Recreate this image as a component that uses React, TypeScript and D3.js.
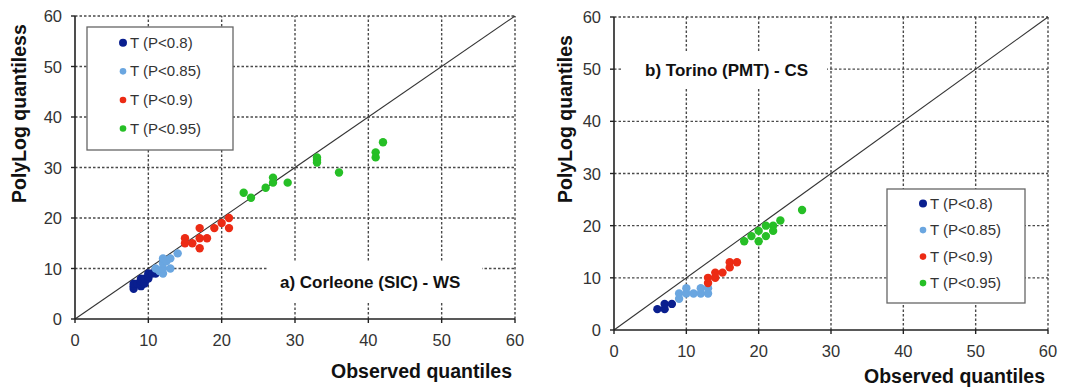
import * as d3 from "d3";

type Pt = [number, number];

// series labels and colours
const seriesNames = ["T (P<0.8)", "T (P<0.85)", "T (P<0.9)", "T (P<0.95)"];
const seriesColors = ["#0a1f8f", "#6aa6e0", "#ec2b14", "#26bf26"];
const ticks = [0, 10, 20, 30, 40, 50, 60];

// a) Corleone (SIC) - WS : [observed, polylog]
const corleoneP80: Pt[] = [
    [8, 6], [8, 6.5], [8, 7], [8.5, 7], [9, 6.5], [9, 7], [9, 7.5], [9, 8],
    [9.5, 7], [9.5, 8], [10, 8], [10, 8.5], [10, 9], [10.5, 9], [11, 9],
];
const corleoneP85: Pt[] = [
    [11, 10], [11.5, 9.5], [12, 9], [12, 10], [12, 11], [12, 12],
    [12.5, 11.5], [13, 12], [13, 10], [14, 13],
];
const corleoneP90: Pt[] = [
    [15, 16], [15, 15], [16, 15], [17, 18], [17, 16], [17, 14],
    [18, 16], [19, 18], [20, 19], [21, 20], [21, 18],
];
const corleoneP95: Pt[] = [
    [23, 25], [24, 24], [26, 26], [27, 27], [27, 28], [29, 27], [33, 32],
    [33, 31.5], [33, 31], [36, 29], [41, 33], [41, 32], [42, 35],
];

// b) Torino (PMT) - CS
const torinoP80: Pt[] = [[6, 4], [7, 4], [7, 5], [8, 5]];
const torinoP85: Pt[] = [
    [9, 6], [9, 7], [10, 7], [10, 8], [11, 7], [12, 7], [12, 8], [13, 7], [13, 8],
];
const torinoP90: Pt[] = [
    [13, 9], [13, 10], [14, 10], [14, 11], [15, 11], [16, 12], [16, 13], [17, 13],
];
const torinoP95: Pt[] = [
    [18, 17], [19, 18], [20, 19], [20, 17], [21, 20], [21, 18], [22, 20],
    [22, 19], [23, 21], [26, 23],
];

type PanelProps = {
    series: Pt[][];
    left: number;
    right: number;
    top: number;
    bottom: number;
    yTitle: string;
    xTitleY: number;
    yTitleX: number;
    note: string;
    noteBox: [number, number, number, number];
    noteX: number;
    noteY: number;
    legend: [number, number, number, number];
};

function Panel(p: PanelProps) {
    const x = d3.scaleLinear().domain([0, 60]).range([p.left, p.right]);
    const y = d3.scaleLinear().domain([0, 60]).range([p.bottom, p.top]);
    const [lx, ly, lw, lh] = p.legend;
    const step = lh / 4.3;

    return (
        <g>
            {/* grid */}
            {ticks.slice(1).map((t) => (
                <line key={"gx" + t} x1={x(t)} x2={x(t)} y1={y(0)} y2={y(60)}
                    stroke="#4a4a4a" strokeWidth={1.4} strokeDasharray="2.5,2" />
            ))}
            {ticks.slice(1).map((t) => (
                <line key={"gy" + t} x1={x(0)} x2={x(60)} y1={y(t)} y2={y(t)}
                    stroke="#4a4a4a" strokeWidth={1.4} strokeDasharray="2.5,2" />
            ))}
            {/* note background */}
            <rect x={p.noteBox[0]} y={p.noteBox[1]} width={p.noteBox[2]} height={p.noteBox[3]} fill="#fff" />
            {/* 1:1 line */}
            <line x1={x(0)} y1={y(0)} x2={x(60)} y2={y(60)} stroke="#333" strokeWidth={1.1} />
            {/* axes */}
            <line x1={x(0)} x2={x(0)} y1={y(0)} y2={y(60)} stroke="#222" strokeWidth={1.6} />
            <line x1={x(0)} x2={x(60)} y1={y(0)} y2={y(0)} stroke="#222" strokeWidth={1.6} />
            {ticks.map((t) => (
                <g key={"t" + t}>
                    <line x1={x(0) - 4} x2={x(0)} y1={y(t)} y2={y(t)} stroke="#222" strokeWidth={1.4} />
                    <line x1={x(t)} x2={x(t)} y1={y(0)} y2={y(0) + 4} stroke="#222" strokeWidth={1.4} />
                    <text x={x(0) - 13} y={y(t) + 6} textAnchor="end" fontSize={16.5} fill="#333">{t}</text>
                    <text x={x(t)} y={y(0) + 27} textAnchor="middle" fontSize={16.5} fill="#333">{t}</text>
                </g>
            ))}
            {/* points */}
            {p.series.map((s, i) =>
                s.map((d, j) => (
                    <circle key={i + "-" + j} cx={x(d[0])} cy={y(d[1])} r={4.2} fill={seriesColors[i]} />
                ))
            )}
            {/* note */}
            <text x={p.noteX} y={p.noteY} fontSize={17} fontWeight="bold" fill="#111">{p.note}</text>
            {/* legend */}
            <rect x={lx} y={ly} width={lw} height={lh} fill="#fff" stroke="#666" strokeWidth={1.3} />
            {seriesNames.map((n, i) => (
                <g key={n}>
                    <circle cx={lx + 36} cy={ly + step * (0.55 + i)} r={i === 0 ? 4 : 3.3} fill={seriesColors[i]} />
                    <text x={lx + 43} y={ly + step * (0.55 + i) + 5} fontSize={15} fill="#333">{n}</text>
                </g>
            ))}
            {/* titles */}
            <text x={p.right - 3} y={p.xTitleY} textAnchor="end" fontSize={19.5} fontWeight="bold" fill="#111">
                Observed quantiles
            </text>
            <text transform={`translate(${p.yTitleX},203) rotate(-90)`} fontSize={19.5} fontWeight="bold" fill="#111">
                {p.yTitle}
            </text>
        </g>
    );
}

export default function App() {
    return (
        <svg width={1066} height={388} style={{ position: "absolute", left: 0, top: 0, background: "#fff" }}
            fontFamily="'Liberation Sans', Arial, sans-serif">
            <Panel
                series={[corleoneP80, corleoneP85, corleoneP90, corleoneP95]}
                left={75} right={515} top={16} bottom={319}
                yTitle="PolyLog quantiless" yTitleX={26} xTitleY={378}
                note="a) Corleone (SIC) - WS" noteBox={[268, 262, 214, 40]} noteX={280} noteY={288}
                legend={[87, 27, 146, 123]}
            />
            <Panel
                series={[torinoP80, torinoP85, torinoP90, torinoP95]}
                left={614} right={1048} top={17} bottom={330}
                yTitle="PolyLog quantiles" yTitleX={572} xTitleY={383}
                note="b) Torino (PMT) - CS" noteBox={[622, 52, 205, 36]} noteX={645} noteY={76}
                legend={[887, 189, 138, 114]}
            />
        </svg>
    );
}
